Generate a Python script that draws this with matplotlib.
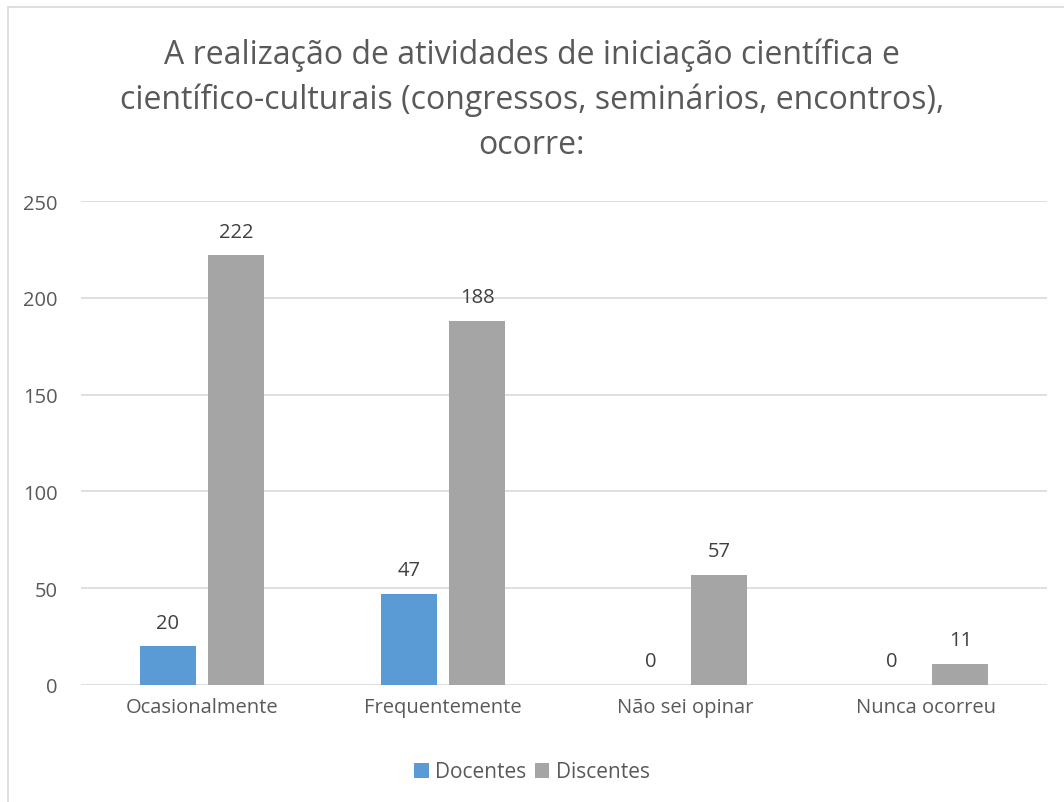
import numpy as np
import matplotlib.pyplot as plt
from matplotlib.patches import Rectangle

categorias = ["Ocasionalmente", "Frequentemente", "Não sei opinar", "Nunca ocorreu"]
docentes = [20, 47, 0, 0]
discentes = [222, 188, 57, 11]
titulo = ("A realização de atividades de iniciação científica e\n"
          "científico-culturais (congressos, seminários, encontros),\n"
          "ocorre:")

plt.rcParams['font.family'] = ['Open Sans', 'DejaVu Sans']
texto = '#595959'

fig = plt.figure(figsize=(10.64, 8.03), dpi=100)
# chart border (only left and top edges visible in the crop)
fig.patches.append(Rectangle((8/1064, -0.1), 1.2, 1 - 8/803 + 0.1,
                             transform=fig.transFigure, fill=False,
                             edgecolor='#D9D9D9', linewidth=1.2))

ax = fig.add_axes([81/1064, 117/803, (1047-81)/1064, 484/803])

x = np.arange(len(categorias))
w = 0.232
off = 0.141
b1 = ax.bar(x - off, docentes, w, color='#5B9BD5', label='Docentes', zorder=3)
b2 = ax.bar(x + off, discentes, w, color='#A5A5A5', label='Discentes', zorder=3)

for bars in (b1, b2):
    for r in bars:
        h = r.get_height()
        ax.text(r.get_x() + r.get_width()/2, h + 7, str(int(h)),
                ha='center', va='bottom', fontsize=14.5, color='#404040')

ax.set_xlim(-0.5, 3.5)
ax.set_ylim(0, 250)
ax.set_yticks([0, 50, 100, 150, 200, 250])
ax.set_xticks(x)
ax.set_xticklabels(categorias)
ax.tick_params(length=0, labelsize=14.5, labelcolor=texto)
ax.tick_params(axis='x', pad=9)
ax.tick_params(axis='y', pad=17)
ax.grid(axis='y', color='#D9D9D9', linewidth=1.2, zorder=0)
for s in ax.spines.values():
    s.set_visible(False)

fig.text(0.5, 1 - 100/803, titulo, ha='center', va='center', fontsize=23,
         color=texto, linespacing=1.47)

leg = fig.legend(loc='center', bbox_to_anchor=(0.5, 1 - 773/803), ncol=2,
                 frameon=False, fontsize=15, handlelength=0.7, handleheight=0.7,
                 handletextpad=0.3, columnspacing=0.4, labelcolor=texto)

plt.savefig("out.png", dpi=100)
